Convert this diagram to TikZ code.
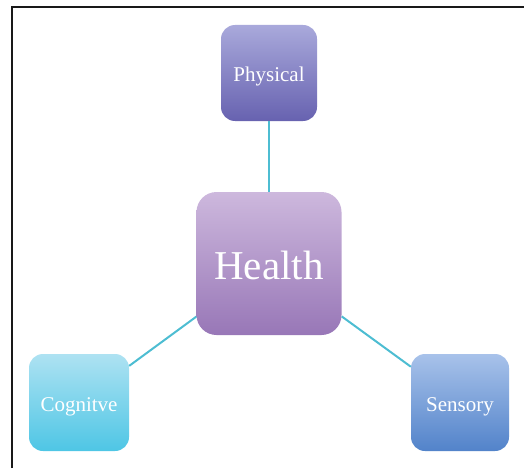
\documentclass[tikz,border=0pt]{standalone}
\usepackage{fontspec}
\setmainfont{Liberation Serif}
\definecolor{linec}{HTML}{4DBDD2}
\definecolor{hTop}{HTML}{CDB8DD}
\definecolor{hBot}{HTML}{9877B7}
\definecolor{pTop}{HTML}{A9A9DB}
\definecolor{pBot}{HTML}{6762B0}
\definecolor{cTop}{HTML}{AEE2F2}
\definecolor{cBot}{HTML}{4EC6E5}
\definecolor{sTop}{HTML}{A8C2EA}
\definecolor{sBot}{HTML}{5283CA}
\newcommand{\lowered}[2]{\raisebox{-#1}[0pt][0pt]{#2}}
\tikzset{
  box/.style={rectangle, rounded corners=14pt, inner sep=0pt, text=white, font=\fontsize{21}{24}\selectfont, shading=axis, shading angle=0},
}
\begin{document}
\begin{tikzpicture}[x=1pt,y=-1pt]
\useasboundingbox (0,0) rectangle (524,468);
\draw[line width=2pt, black!90] (12,468) -- (12,7) -- (524,7);
\node[box, minimum width=96pt, minimum height=96pt, top color=pTop, bottom color=pBot] (phys) at (269,73) {\lowered{8.5pt}{Physical}};
\node[box, rounded corners=20pt, minimum width=145pt, minimum height=143pt, top color=hTop, bottom color=hBot, font=\fontsize{41}{46}\selectfont] (health) at (269,263.5) {\lowered{16pt}{Health}};
\node[box, minimum width=100pt, minimum height=97pt, top color=cTop, bottom color=cBot] (cog) at (79,402.5) {\lowered{8.5pt}{Cognitve}};
\node[box, minimum width=98pt, minimum height=97pt, top color=sTop, bottom color=sBot] (sens) at (460,402.5) {\lowered{8.5pt}{Sensory}};
\draw[linec, line width=2pt] (phys) -- (health);
\draw[linec, line width=2pt] (health) -- (cog);
\draw[linec, line width=2pt] (health) -- (sens);
\end{tikzpicture}
\end{document}
